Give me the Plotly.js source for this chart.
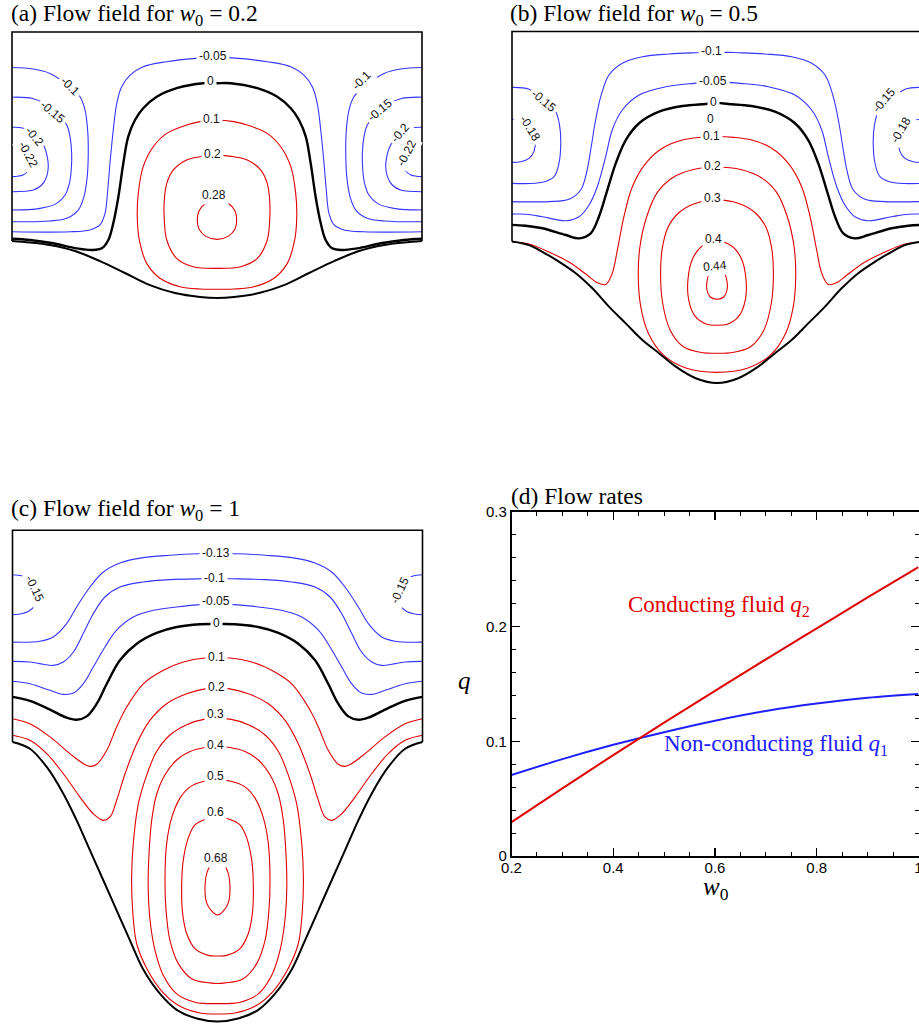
<!DOCTYPE html>
<html><head><meta charset="utf-8">
<script src="https://cdn.plot.ly/plotly-3.0.1.min.js"></script>
<style>html,body{margin:0;padding:0;overflow:hidden;background:#fff}</style>
</head><body><div id="chart" style="width:940px;height:1027px"></div>
<script>
// ===== Panel (a) w0 = 0.2 : contour paths (x in [-1,1], y: side-wall bottom 0, top 1) =====
// symmetric contours: half path that ends on the centre line x=0 (mirrored to the right half)
const a_wall  = [[-1,0],[-0.912,-0.007],[-0.815,-0.019],[-0.693,-0.048],[-0.571,-0.096],[-0.449,-0.153],[-0.327,-0.211],[-0.205,-0.249],[-0.083,-0.268],[0,-0.273]];
const a_m005  = [[-1,0.044],[-0.717,0.044],[-0.620,0.053],[-0.571,0.077],[-0.546,0.133],[-0.533,0.244],[-0.522,0.372],[-0.506,0.531],[-0.489,0.659],[-0.465,0.738],[-0.424,0.794],[-0.360,0.834],[-0.245,0.858],[-0.107,0.874],[0,0.880]];
const a_zero  = [[-1,0.011],[-0.912,0.005],[-0.799,-0.011],[-0.684,-0.035],[-0.611,-0.043],[-0.562,-0.035],[-0.530,0.005],[-0.506,0.085],[-0.481,0.212],[-0.457,0.372],[-0.433,0.499],[-0.400,0.579],[-0.360,0.635],[-0.294,0.690],[-0.197,0.731],[-0.067,0.755],[0,0.755]];
const a_p01   = [[0,0.579],[-0.083,0.571],[-0.148,0.555],[-0.245,0.515],[-0.311,0.451],[-0.360,0.356],[-0.384,0.228],[-0.389,0.116],[-0.379,0.005],[-0.343,-0.107],[-0.278,-0.178],[-0.180,-0.219],[-0.083,-0.230],[0,-0.231]];
const a_p02   = [[0,0.411],[-0.083,0.403],[-0.148,0.388],[-0.213,0.340],[-0.245,0.276],[-0.257,0.196],[-0.257,0.100],[-0.245,0.005],[-0.197,-0.083],[-0.116,-0.123],[0,-0.131]];
const a_p028  = [[0,0.191],[-0.059,0.177],[-0.088,0.144],[-0.096,0.100],[-0.088,0.057],[-0.054,0.022],[0,0.008]];
// side vortex contours (left wall; the right-wall vortex is the mirror image)
const a_v010  = [[-1,0.830],[-0.896,0.823],[-0.815,0.802],[-0.717,0.738],[-0.668,0.690],[-0.644,0.627],[-0.631,0.531],[-0.628,0.420],[-0.633,0.308],[-0.649,0.212],[-0.677,0.148],[-0.733,0.109],[-0.815,0.096],[-1,0.092]];
const a_v015  = [[-1,0.688],[-0.896,0.681],[-0.805,0.636],[-0.733,0.555],[-0.717,0.499],[-0.709,0.420],[-0.711,0.340],[-0.720,0.276],[-0.741,0.220],[-0.782,0.180],[-0.863,0.156],[-1,0.148]];
const a_v020  = [[-1,0.544],[-0.945,0.539],[-0.883,0.498],[-0.847,0.459],[-0.828,0.403],[-0.823,0.356],[-0.831,0.308],[-0.855,0.268],[-0.896,0.244],[-1,0.236]];
const a_v022  = [[-1,0.459],[-0.951,0.445],[-0.917,0.411],[-0.907,0.373],[-0.917,0.340],[-0.946,0.316],[-1,0.308]];
const a_labels = [['-0.05',-0.02,0.885,0],['0',-0.034,0.766,0],['0.1',-0.029,0.584,0],['0.2',-0.02,0.416,0],['0.28',-0.015,0.220,0],
  ['-0.1',-0.717,0.743,45],['-0.15',-0.801,0.619,40],['-0.2',-0.888,0.499,50],['-0.22',-0.920,0.411,62],
  ['-0.1',0.706,0.770,-45],['-0.15',0.795,0.627,-40],['-0.2',0.893,0.515,-50],['-0.22',0.925,0.420,-62]];

// ===== Panel (b) w0 = 0.5 =====
const b_wall  = [[-1,0],[-0.917,-0.017],[-0.852,-0.049],[-0.771,-0.096],[-0.689,-0.151],[-0.608,-0.223],[-0.527,-0.310],[-0.445,-0.390],[-0.364,-0.469],[-0.283,-0.532],[-0.201,-0.596],[-0.104,-0.651],[0,-0.674]];
const b_m010  = [[-1,0.190],[-0.820,0.190],[-0.722,0.201],[-0.665,0.245],[-0.637,0.325],[-0.616,0.436],[-0.595,0.563],[-0.567,0.690],[-0.527,0.793],[-0.462,0.849],[-0.364,0.880],[-0.234,0.893],[-0.104,0.899],[0,0.902]];
const b_m005  = [[-1,0.131],[-0.933,0.130],[-0.852,0.118],[-0.738,0.099],[-0.673,0.118],[-0.624,0.174],[-0.584,0.261],[-0.543,0.404],[-0.511,0.531],[-0.462,0.626],[-0.380,0.698],[-0.250,0.737],[-0.112,0.753],[0,0.760]];
const b_zero  = [[-1,0.079],[-0.933,0.075],[-0.852,0.063],[-0.738,0.031],[-0.673,0.015],[-0.616,0.039],[-0.576,0.118],[-0.535,0.245],[-0.494,0.372],[-0.445,0.483],[-0.380,0.563],[-0.283,0.618],[-0.169,0.645],[-0.055,0.655],[0,0.660]];
const b_p01   = [[-1,-0.001],[-0.917,-0.012],[-0.820,-0.050],[-0.722,-0.098],[-0.640,-0.155],[-0.584,-0.196],[-0.543,-0.205],[-0.511,-0.151],[-0.486,-0.040],[-0.454,0.118],[-0.413,0.261],[-0.348,0.372],[-0.267,0.444],[-0.169,0.483],[-0.080,0.496],[0,0.500]];
const b_p02   = [[0,0.355],[-0.120,0.342],[-0.215,0.305],[-0.290,0.235],[-0.343,0.118],[-0.376,-0.025],[-0.384,-0.168],[-0.372,-0.310],[-0.335,-0.437],[-0.262,-0.540],[-0.148,-0.604],[0,-0.623]];
const b_p03   = [[0,0.198],[-0.110,0.180],[-0.185,0.138],[-0.240,0.066],[-0.268,-0.040],[-0.275,-0.168],[-0.265,-0.294],[-0.229,-0.421],[-0.164,-0.501],[-0.067,-0.530],[0,-0.532]];
const b_p04   = [[0,0.002],[-0.070,-0.020],[-0.118,-0.080],[-0.141,-0.175],[-0.138,-0.279],[-0.105,-0.358],[-0.050,-0.394],[0,-0.399]];
const b_p044  = [[0,-0.138],[-0.034,-0.148],[-0.048,-0.185],[-0.049,-0.231],[-0.034,-0.263],[0,-0.275]];
const b_v015  = [[-1,0.734],[-0.917,0.725],[-0.844,0.670],[-0.787,0.618],[-0.767,0.547],[-0.762,0.468],[-0.771,0.372],[-0.795,0.309],[-0.852,0.282],[-1,0.277]];
const b_v018  = [[-1,0.582],[-0.950,0.574],[-0.912,0.540],[-0.888,0.483],[-0.893,0.428],[-0.917,0.396],[-0.957,0.380],[-1,0.377]];
const b_labels = [['-0.1',-0.029,0.907,0],['-0.05',-0.018,0.764,0],['0',-0.018,0.666,0],['0',-0.031,0.583,0],['0.1',-0.026,0.502,0],
  ['0.2',-0.023,0.361,0],['0.3',-0.023,0.209,0],['0.4',-0.018,0.012,0],['0.44',-0.010,-0.117,-5],
  ['-0.15',-0.844,0.670,40],['-0.18',-0.914,0.539,58],['-0.15',0.815,0.674,-50],['-0.18',0.896,0.531,-60]];

// ===== Panel (c) w0 = 1 =====
const c_wall  = [[-1,0],[-0.915,-0.032],[-0.833,-0.118],[-0.752,-0.244],[-0.687,-0.370],[-0.622,-0.512],[-0.557,-0.653],[-0.492,-0.795],[-0.427,-0.937],[-0.362,-1.075],[-0.280,-1.190],[-0.199,-1.265],[-0.101,-1.306],[0,-1.320]];
const c_m013  = [[-1,0.472],[-0.866,0.476],[-0.801,0.496],[-0.736,0.559],[-0.687,0.638],[-0.622,0.732],[-0.557,0.803],[-0.476,0.846],[-0.362,0.871],[-0.232,0.882],[-0.094,0.889],[0,0.890]];
const c_m010  = [[-1,0.381],[-0.915,0.378],[-0.850,0.367],[-0.801,0.362],[-0.752,0.378],[-0.703,0.425],[-0.655,0.512],[-0.606,0.606],[-0.549,0.685],[-0.476,0.732],[-0.362,0.756],[-0.232,0.767],[-0.069,0.771],[0,0.772]];
const c_m005  = [[-1,0.287],[-0.915,0.275],[-0.817,0.244],[-0.752,0.225],[-0.703,0.231],[-0.655,0.275],[-0.606,0.354],[-0.549,0.449],[-0.492,0.528],[-0.411,0.590],[-0.313,0.622],[-0.199,0.638],[-0.077,0.649],[0,0.650]];
const c_zero  = [[-1,0.213],[-0.915,0.194],[-0.817,0.153],[-0.736,0.115],[-0.687,0.105],[-0.638,0.121],[-0.589,0.181],[-0.540,0.275],[-0.476,0.386],[-0.394,0.464],[-0.297,0.515],[-0.199,0.543],[-0.085,0.556],[0,0.557]];
const c_p01   = [[-1,0.110],[-0.915,0.086],[-0.817,0.024],[-0.720,-0.055],[-0.655,-0.102],[-0.622,-0.115],[-0.589,-0.105],[-0.540,-0.039],[-0.492,0.071],[-0.443,0.165],[-0.362,0.275],[-0.264,0.339],[-0.167,0.378],[-0.061,0.397],[0,0.397]];
const c_p02   = [[-1,0.032],[-0.915,0.008],[-0.833,-0.055],[-0.752,-0.150],[-0.671,-0.260],[-0.606,-0.339],[-0.557,-0.370],[-0.524,-0.354],[-0.492,-0.275],[-0.451,-0.150],[-0.394,-0.008],[-0.329,0.103],[-0.248,0.181],[-0.150,0.228],[-0.053,0.252],[0,0.253]];
const c_p03   = [[0,0.110],[-0.061,0.108],[-0.150,0.082],[-0.232,0.033],[-0.297,-0.045],[-0.345,-0.155],[-0.386,-0.291],[-0.411,-0.480],[-0.419,-0.638],[-0.414,-0.795],[-0.394,-0.953],[-0.341,-1.077],[-0.268,-1.181],[-0.185,-1.247],[-0.085,-1.280],[0,-1.285]];
const c_p04   = [[0,-0.021],[-0.061,-0.026],[-0.134,-0.045],[-0.199,-0.085],[-0.256,-0.155],[-0.297,-0.248],[-0.321,-0.370],[-0.334,-0.528],[-0.338,-0.685],[-0.329,-0.842],[-0.305,-0.984],[-0.264,-1.103],[-0.199,-1.190],[-0.110,-1.229],[0,-1.236]];
const c_p05   = [[0,-0.180],[-0.061,-0.184],[-0.134,-0.212],[-0.183,-0.265],[-0.223,-0.356],[-0.248,-0.480],[-0.256,-0.638],[-0.251,-0.795],[-0.232,-0.937],[-0.191,-1.047],[-0.126,-1.118],[-0.037,-1.138],[0,-1.141]];
const c_p06   = [[0,-0.359],[-0.061,-0.366],[-0.110,-0.392],[-0.142,-0.452],[-0.167,-0.559],[-0.175,-0.685],[-0.170,-0.811],[-0.150,-0.906],[-0.110,-0.976],[-0.045,-1.008],[0,-1.011]];
const c_p068  = [[0,-0.567],[-0.029,-0.578],[-0.051,-0.616],[-0.061,-0.690],[-0.054,-0.756],[-0.029,-0.798],[0,-0.817]];
const c_v015  = [[-1,0.790],[-0.954,0.784],[-0.915,0.761],[-0.890,0.718],[-0.883,0.680],[-0.890,0.647],[-0.923,0.616],[-0.963,0.605],[-1,0.601]];
const c_labels = [['-0.13',-0.007,0.893,0],['-0.1',-0.017,0.777,0],['-0.05',-0.007,0.664,0],['0',-0.007,0.562,0],['0.1',-0.007,0.402,0],
  ['0.2',-0.007,0.260,0],['0.3',-0.012,0.130,0],['0.4',-0.012,-0.014,0],['0.5',-0.012,-0.161,0],['0.6',-0.012,-0.331,0],['0.68',-0.007,-0.548,0],
  ['-0.15',-0.890,0.724,65],['-0.15',0.890,0.717,-65]];

// channel walls (left wall, top wall, right wall)
const frameX = [-1,-1,1,1];
const frameY = [0,1,1,0];

// ===== Panel (d) flow rates =====
const w0 = [0.2,0.3,0.4,0.5,0.6,0.7,0.8,0.9,1.0];
const q1 = [0.0706,0.0845,0.0970,0.1080,0.1180,0.1265,0.1330,0.1380,0.1413];
const q2 = [0.0296,0.0590,0.0880,0.1163,0.1440,0.1715,0.1985,0.2255,0.2520];
const xTicks = [0.2,0.4,0.6,0.8,1.0], xTickText = ['0.2','0.4','0.6','0.8','1'];
const yTicks = [0,0.1,0.2,0.3], yTickText = ['0','0.1','0.2','0.3'];

// ---------------- drawing ----------------
const W = 940, H = 1027;
const BLUE = '#3535ff', RED = '#e00000';
function mirrorPath(h){ return h.concat(h.map(p=>[-p[0],p[1]]).reverse().slice(1)); }
function mirrorOnly(h){ return h.map(p=>[-p[0],p[1]]); }
const traces = [];
function addLine(pts, n, color, width, shape){
  const ax = n===1 ? '' : String(n);
  traces.push({type:'scatter', mode:'lines', x:pts.map(p=>p[0]), y:pts.map(p=>p[1]),
    xaxis:'x'+ax, yaxis:'y'+ax, hoverinfo:'skip', showlegend:false,
    line:{color:color, width:width, shape:shape||'spline', smoothing:1}});
}
function colorOf(v){ return v<0 ? BLUE : (v>0 ? RED : '#000'); }
function widthOf(v){ return v===0 ? 2.4 : 1.1; }
function addPanel(n, sym, side, wall){
  sym.forEach(([v,h])=> addLine(mirrorPath(h), n, colorOf(v), widthOf(v)));
  side.forEach(([v,h])=> { addLine(h, n, colorOf(v), widthOf(v)); addLine(mirrorOnly(h), n, colorOf(v), widthOf(v)); });
  addLine(mirrorPath(wall), n, '#000', 2.0);
  addLine(frameX.map((x,i)=>[x,frameY[i]]), n, '#000', 1.6, 'linear');
}
addPanel(1, [[-0.05,a_m005],[0,a_zero],[0.1,a_p01],[0.2,a_p02],[0.28,a_p028]],
            [[-0.1,a_v010],[-0.15,a_v015],[-0.2,a_v020],[-0.22,a_v022]], a_wall);
addPanel(2, [[-0.1,b_m010],[-0.05,b_m005],[0,b_zero],[0.1,b_p01],[0.2,b_p02],[0.3,b_p03],[0.4,b_p04],[0.44,b_p044]],
            [[-0.15,b_v015],[-0.18,b_v018]], b_wall);
addPanel(3, [[-0.13,c_m013],[-0.1,c_m010],[-0.05,c_m005],[0,c_zero],[0.1,c_p01],[0.2,c_p02],[0.3,c_p03],[0.4,c_p04],[0.5,c_p05],[0.6,c_p06],[0.68,c_p068]],
            [[-0.15,c_v015]], c_wall);
traces.push({type:'scatter', mode:'lines', x:w0, y:q1, xaxis:'x4', yaxis:'y4', line:{color:'#2020ff', width:2, shape:'spline'}, hoverinfo:'skip', showlegend:false});
traces.push({type:'scatter', mode:'lines', x:w0, y:q2, xaxis:'x4', yaxis:'y4', line:{color:'#e00000', width:2, shape:'spline'}, hoverinfo:'skip', showlegend:false});

// panel placement (pixel position of data origin and pixels per unit)
function xdom(px0, sx, r){ return [(px0+sx*r[0])/W, (px0+sx*r[1])/W]; }
function ydom(py0, sy, r){ return [1-(py0-sy*r[0])/H, 1-(py0-sy*r[1])/H]; }
const hid = {visible:false, showgrid:false, zeroline:false, fixedrange:true};
const rA = {x:[-1.03,1.03], y:[-0.31,1.02]}, rB = {x:[-1.03,1.03], y:[-0.70,1.02]}, rC = {x:[-1.03,1.03], y:[-1.34,1.02]};
const tickFont = {family:'Liberation Sans, Arial', size:15, color:'#000'};
const layout = {
  width:W, height:H, margin:{l:0,r:0,t:0,b:0}, paper_bgcolor:'#fff', plot_bgcolor:'rgba(0,0,0,0)', showlegend:false,
  xaxis: Object.assign({range:rA.x, domain:xdom(217,205,rA.x), anchor:'y'}, hid),
  yaxis: Object.assign({range:rA.y, domain:ydom(241,209,rA.y), anchor:'x'}, hid),
  xaxis2: Object.assign({range:rB.x, domain:xdom(717,205,rB.x), anchor:'y2'}, hid),
  yaxis2: Object.assign({range:rB.y, domain:ydom(241.5,210,rB.y), anchor:'x2'}, hid),
  xaxis3: Object.assign({range:rC.x, domain:xdom(217.5,205,rC.x), anchor:'y3'}, hid),
  yaxis3: Object.assign({range:rC.y, domain:ydom(742,211.7,rC.y), anchor:'x3'}, hid),
  xaxis4: {range:[0.2,1.0], domain:[511.5/W, 918.5/W], anchor:'y4', showgrid:false, zeroline:false,
    showline:true, linecolor:'#000', linewidth:1.6, mirror:'allticks', ticks:'inside', ticklen:8, tickwidth:1.2, tickcolor:'#000',
    tickvals:xTicks, ticktext:xTickText, tickfont:tickFont, ticklabelstandoff:-3,
    minor:{dtick:0.05, ticks:'inside', ticklen:4, tickcolor:'#000', tickwidth:1, showgrid:false}},
  yaxis4: {range:[0,0.3], domain:[1-856/H, 1-512/H], anchor:'x4', showgrid:false, zeroline:false,
    showline:true, linecolor:'#000', linewidth:1.6, mirror:'allticks', ticks:'inside', ticklen:8, tickwidth:1.2, tickcolor:'#000',
    tickvals:yTicks, ticktext:yTickText, tickfont:tickFont,
    minor:{dtick:0.02, ticks:'inside', ticklen:4, tickcolor:'#000', tickwidth:1, showgrid:false}},
  annotations: []
};
function addLabels(n, labs){
  const ax = n===1 ? '' : String(n);
  labs.forEach(([t,x,y,ang])=> layout.annotations.push({xref:'x'+ax, yref:'y'+ax, x:x, y:y, text:t, textangle:ang,
    showarrow:false, bgcolor:'#fff', borderpad:2, xanchor:'center', yanchor:'middle',
    font:{family:'Liberation Sans, Arial', size:12, color:'#111'}}));
}
addLabels(1, a_labels); addLabels(2, b_labels); addLabels(3, c_labels);
function P(px,py){ return {x:px/W, y:1-py/H}; }
const SERIF = 'Liberation Serif, Times New Roman, serif';
function addText(px,py,text,size,color,anchor){
  const p = P(px,py);
  layout.annotations.push({xref:'paper', yref:'paper', x:p.x, y:p.y, text:text, showarrow:false,
    xanchor:anchor||'left', yanchor:'middle', font:{family:SERIF, size:size, color:color||'#000'}});
}
addText(9, 14.5, '(a) Flow field for <i>w</i><sub>0</sub> = 0.2', 23.5);
addText(508, 14.5, '(b) Flow field for <i>w</i><sub>0</sub> = 0.5', 23.5);
addText(9, 510, '(c) Flow field for <i>w</i><sub>0</sub> = 1', 23.5);
addText(509, 496, '(d) Flow rates', 23.5);
addText(716, 888, '<i>w</i><sub>0</sub>', 25, '#000', 'center');
addText(464, 680, '<i>q</i>', 25, '#000', 'center');
layout.annotations.push({xref:'x4', yref:'y4', x:0.607, y:0.218, text:'Conducting fluid <i>q</i><sub>2</sub>', showarrow:false,
  xanchor:'center', yanchor:'middle', font:{family:SERIF, size:23, color:'#e00000'}});
layout.annotations.push({xref:'x4', yref:'y4', x:0.72, y:0.0968, text:'Non-conducting fluid <i>q</i><sub>1</sub>', showarrow:false,
  xanchor:'center', yanchor:'middle', font:{family:SERIF, size:23, color:'#2020ff'}});

Plotly.newPlot('chart', traces, layout, {staticPlot:true, displayModeBar:false});
</script></body></html>
